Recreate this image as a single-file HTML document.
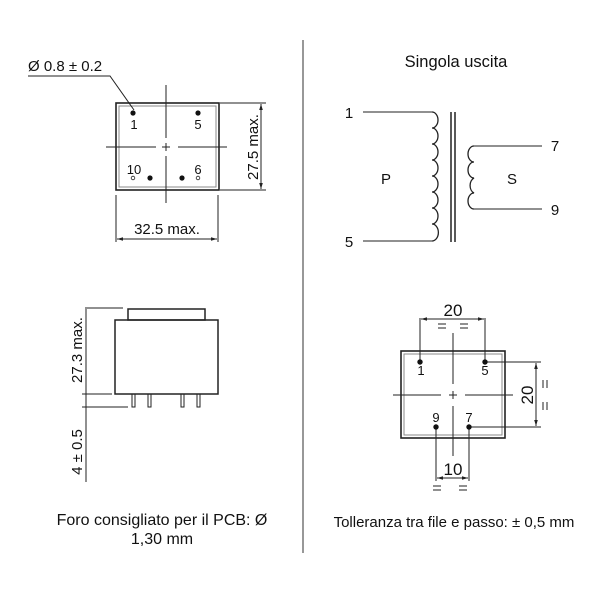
<!DOCTYPE html>
<html><head><style>
html,body{margin:0;padding:0;background:#fff;}
svg{display:block;}
text{font-family:"Liberation Sans",sans-serif;fill:#111;}
</style></head><body>
<svg width="600" height="600" viewBox="0 0 600 600" xmlns="http://www.w3.org/2000/svg">
<defs>
<marker id="a" viewBox="0 0 10 10" refX="10" refY="5" markerWidth="6" markerHeight="6" orient="auto-start-reverse"><path d="M0,2 L10,5 L0,8 z" fill="#222"/></marker>
</defs>
<g stroke="#222" fill="none" stroke-width="1">
<line x1="303" y1="40" x2="303" y2="553" stroke="#777" stroke-width="1.5"/>

<rect x="116" y="103" width="103" height="87" stroke-width="1.6"/>
<rect x="119" y="106" width="97" height="81" stroke="#888" stroke-width="1"/>
<line x1="166" y1="85" x2="166" y2="138"/>
<line x1="166" y1="156" x2="166" y2="203"/>
<line x1="106" y1="147" x2="156" y2="147"/>
<line x1="178" y1="147" x2="227" y2="147"/>
<line x1="162" y1="147" x2="170" y2="147"/>
<line x1="166" y1="143" x2="166" y2="151"/>
<polyline points="28,76 110,76 134,110"/>
<line x1="220" y1="103" x2="266" y2="103"/>
<line x1="220" y1="190" x2="266" y2="190"/>
<line x1="261" y1="104" x2="261" y2="189" marker-start="url(#a)" marker-end="url(#a)"/>
<line x1="116" y1="195" x2="116" y2="242"/>
<line x1="218" y1="195" x2="218" y2="242"/>
<line x1="117" y1="239" x2="217" y2="239" marker-start="url(#a)" marker-end="url(#a)"/>

<rect x="128" y="309" width="77" height="11" stroke-width="1.5"/>
<rect x="115" y="320" width="103" height="74" stroke-width="1.5"/>
<rect x="132" y="394" width="3" height="13"/>
<rect x="148" y="394" width="3" height="13"/>
<rect x="181" y="394" width="3" height="13"/>
<rect x="197" y="394" width="3" height="13"/>
<line x1="86" y1="309" x2="86" y2="482"/>
<line x1="85" y1="308" x2="123" y2="308"/>
<line x1="82" y1="394" x2="112" y2="394"/>
<line x1="82" y1="407" x2="128" y2="407"/>

<line x1="363" y1="112" x2="432" y2="112"/>
<line x1="363" y1="241" x2="432" y2="241"/>
<path d="M432,112 a6,8 0 0 1 0,16 a6,8 0 0 1 0,16 a6,8 0 0 1 0,16 a6,8 0 0 1 0,16 a6,8 0 0 1 0,16 a6,8 0 0 1 0,16 a6,8 0 0 1 0,16 a6,8 0 0 1 0,17" stroke-width="1.3"/>
<line x1="451" y1="112" x2="451" y2="242" stroke-width="1.5"/>
<line x1="455" y1="112" x2="455" y2="242" stroke-width="1.5"/>
<line x1="474" y1="146" x2="542" y2="146"/>
<line x1="474" y1="209" x2="542" y2="209"/>
<path d="M474,146 a6,8 0 0 0 0,16 a6,8 0 0 0 0,16 a6,8 0 0 0 0,15 a6,8 0 0 0 0,16" stroke-width="1.3"/>

<rect x="401" y="351" width="104" height="87" stroke-width="1.6"/>
<rect x="404" y="354" width="98" height="81" stroke="#888"/>
<line x1="453" y1="333" x2="453" y2="384"/>
<line x1="453" y1="406" x2="453" y2="456"/>
<line x1="393" y1="395" x2="441" y2="395"/>
<line x1="465" y1="395" x2="513" y2="395"/>
<line x1="449" y1="395" x2="457" y2="395"/>
<line x1="453" y1="391" x2="453" y2="399"/>
<line x1="420" y1="318" x2="420" y2="362"/>
<line x1="485" y1="318" x2="485" y2="362"/>
<line x1="421" y1="319" x2="484" y2="319" marker-start="url(#a)" marker-end="url(#a)"/>
<line x1="485" y1="362" x2="541" y2="362"/>
<line x1="469" y1="427" x2="541" y2="427"/>
<line x1="536" y1="363" x2="536" y2="426" marker-start="url(#a)" marker-end="url(#a)"/>
<line x1="436" y1="427" x2="436" y2="481"/>
<line x1="469" y1="427" x2="469" y2="481"/>
<line x1="437" y1="478" x2="468" y2="478" marker-start="url(#a)" marker-end="url(#a)"/>
</g>
<g fill="#111">
<circle cx="133" cy="113" r="2.6"/><circle cx="198" cy="113" r="2.6"/>
<circle cx="150" cy="178" r="2.6"/><circle cx="182" cy="178" r="2.6"/>
<circle cx="420" cy="362" r="2.7"/><circle cx="485" cy="362" r="2.7"/>
<circle cx="436" cy="427" r="2.7"/><circle cx="469" cy="427" r="2.7"/>
</g>
<circle cx="133" cy="178" r="1.8" fill="none" stroke="#222" stroke-width="0.8"/>
<circle cx="198" cy="178" r="1.8" fill="none" stroke="#222" stroke-width="0.8"/>

<g font-size="13" text-anchor="middle">
<text x="134" y="129">1</text><text x="198" y="129">5</text>
<text x="134" y="174">10</text><text x="198" y="174">6</text>
<text x="421" y="375">1</text><text x="485" y="375">5</text>
<text x="436" y="422">9</text><text x="469" y="422">7</text>
</g>
<g font-size="15">
<text x="28" y="71">Ø 0.8 ± 0.2</text>
<text x="167" y="234" text-anchor="middle">32.5 max.</text>
<text transform="translate(258,147) rotate(-90)" text-anchor="middle">27.5 max.</text>
<text transform="translate(82,350) rotate(-90)" text-anchor="middle">27.3 max.</text>
<text transform="translate(82,452) rotate(-90)" text-anchor="middle">4 ± 0.5</text>
<text x="456" y="67" text-anchor="middle" font-size="16.5">Singola uscita</text>
<text x="349" y="118" text-anchor="middle">1</text>
<text x="349" y="247" text-anchor="middle">5</text>
<text x="555" y="151" text-anchor="middle">7</text>
<text x="555" y="215" text-anchor="middle">9</text>
<text x="386" y="184" text-anchor="middle">P</text>
<text x="512" y="184" text-anchor="middle">S</text>
<text x="453" y="316" text-anchor="middle" font-size="17">20</text>
<text x="453" y="475" text-anchor="middle" font-size="17">10</text>
<text transform="translate(533,395) rotate(-90)" text-anchor="middle" font-size="17">20</text>
<text x="162" y="525" text-anchor="middle" font-size="16">Foro consigliato per il PCB: Ø</text>
<text x="162" y="544" text-anchor="middle" font-size="16">1,30 mm</text>
<text x="454" y="527" text-anchor="middle" font-size="15">Tolleranza tra file e passo: ± 0,5 mm</text>
</g>
<g stroke="#222" stroke-width="1">
<path d="M438,324h8M438,328h8M460,324h8M460,328h8"/>
<path d="M433,486h8M433,490h8M459,486h8M459,490h8"/>
<path d="M543,380v8M547,380v8M543,402v8M547,402v8"/>
</g>
</svg>
</body></html>
